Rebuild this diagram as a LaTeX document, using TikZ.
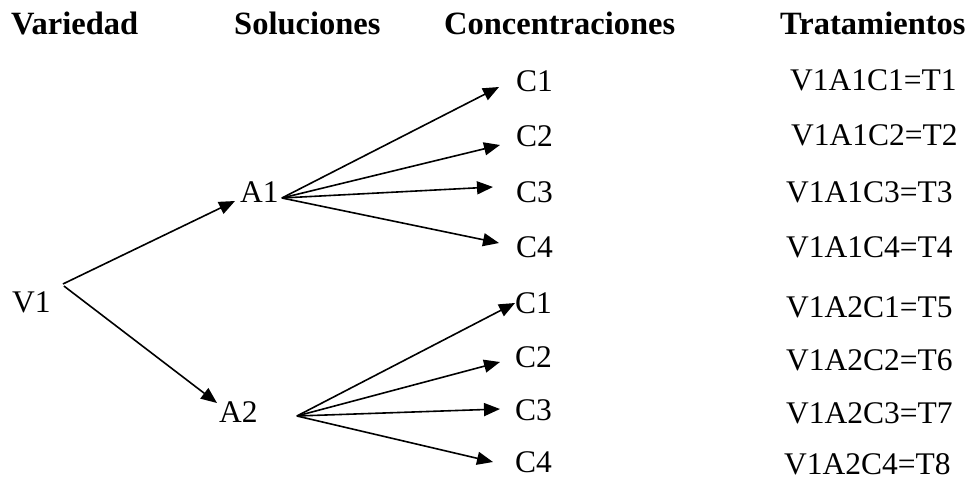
\documentclass[tikz,border=0pt]{standalone}
\usepackage{fontspec}
\setmainfont{Liberation Serif}
\usetikzlibrary{arrows.meta}
\begin{document}
\begin{tikzpicture}[x=1pt,y=1pt,
  lbl/.style={anchor=base west,inner sep=0pt,text depth=0pt,font=\fontsize{31.5}{37}\selectfont},
  hdr/.style={anchor=base west,inner sep=0pt,font=\fontsize{32.5}{38}\selectfont\bfseries},
  arr/.style={line width=1.6pt,-{Triangle[length=16pt,width=13pt]}}]
\useasboundingbox (0,0) rectangle (971,480);
% headers
\node[hdr] (h1) at (11,445) {Variedad};
\node[hdr] (h2) at (234,445) {Soluciones};
\node[hdr] (h3) at (444,445) {Concentraciones};
\node[hdr] (h4) at (780,445) {Tratamientos};
% tree
\node[lbl] (V1) at (12,168) {V1};
\node[lbl] (A1) at (240,278) {A1};
\node[lbl] (A2) at (219,58) {A2};
\node[lbl] (C1a) at (516,388) {C1};
\node[lbl] (C2a) at (516,333) {C2};
\node[lbl] (C3a) at (516,278) {C3};
\node[lbl] (C4a) at (516,223) {C4};
\node[lbl] (C1b) at (515,167) {C1};
\node[lbl] (C2b) at (515,113) {C2};
\node[lbl] (C3b) at (515,60) {C3};
\node[lbl] (C4b) at (515,8) {C4};
% treatments
\node[lbl] (T1) at (790,389) {V1A1C1=T1};
\node[lbl] (T2) at (791,334) {V1A1C2=T2};
\node[lbl] (T3) at (786,278) {V1A1C3=T3};
\node[lbl] (T4) at (786,223) {V1A1C4=T4};
\node[lbl] (T5) at (786,163) {V1A2C1=T5};
\node[lbl] (T6) at (786,110) {V1A2C2=T6};
\node[lbl] (T7) at (786,57) {V1A2C3=T7};
\node[lbl] (T8) at (784,6) {V1A2C4=T8};
% connectors
\draw[arr] ([shift={(12,28)}]V1.base east) -- ([shift={(-5,1)}]A1.base west);
\draw[arr] ([shift={(13,26)}]V1.base east) -- ([shift={(-2,19)}]A2.base west);
\draw[arr] ([shift={(3,4)}]A1.base east) -- ([shift={(-17,5)}]C1a.base west);
\draw[arr] ([shift={(3,4)}]A1.base east) -- ([shift={(-16,2)}]C2a.base west);
\draw[arr] ([shift={(3,4)}]A1.base east) -- ([shift={(-23,15)}]C3a.base west);
\draw[arr] ([shift={(3,4)}]A1.base east) -- ([shift={(-17,14)}]C4a.base west);
\draw[arr] ([shift={(39,6)}]A2.base east) -- ([shift={(0,10)}]C1b.base west);
\draw[arr] ([shift={(39,6)}]A2.base east) -- ([shift={(-15,5)}]C2b.base west);
\draw[arr] ([shift={(39,6)}]A2.base east) -- ([shift={(-15,11)}]C3b.base west);
\draw[arr] ([shift={(39,6)}]A2.base east) -- ([shift={(-22,10)}]C4b.base west);
\end{tikzpicture}
\end{document}
